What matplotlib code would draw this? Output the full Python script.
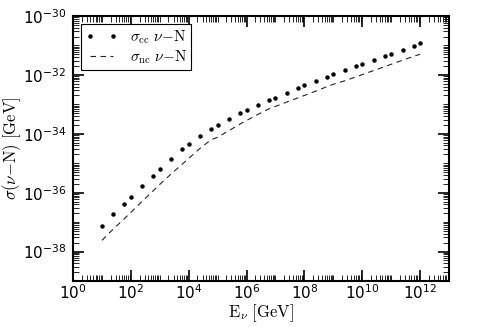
import matplotlib
matplotlib.use("Agg")
import matplotlib.pyplot as plt
from matplotlib.ticker import LogLocator, NullFormatter, FixedLocator, LogFormatterSciNotation

# Neutrino energies [GeV]
energy = [1e1, 2.5e1, 6e1, 1e2, 2.5e2, 6e2, 1e3, 2.5e3, 6e3, 1e4, 2.5e4, 6e4,
          1e5, 2.5e5, 6e5, 1e6, 2.5e6, 6e6, 1e7, 2.5e7, 6e7, 1e8, 2.5e8, 6e8,
          1e9, 2.5e9, 6e9, 1e10, 2.5e10, 6e10, 1e11, 2.5e11, 6e11, 1e12]

# charged-current cross section
sigma_cc = [7.59e-38, 1.91e-37, 4.27e-37, 6.92e-37, 1.66e-36, 3.80e-36, 6.17e-36,
            1.41e-35, 3.02e-35, 4.57e-35, 8.71e-35, 1.48e-34, 1.95e-34, 3.16e-34,
            4.90e-34, 6.17e-34, 9.33e-34, 1.35e-33, 1.70e-33, 2.45e-33, 3.47e-33,
            4.37e-33, 6.17e-33, 8.51e-33, 1.05e-32, 1.41e-32, 1.95e-32, 2.34e-32,
            3.16e-32, 4.37e-32, 5.25e-32, 7.08e-32, 9.77e-32, 1.17e-31]

# neutral-current cross section
sigma_nc = [2.40e-38, 5.89e-38, 1.32e-37, 2.14e-37, 5.13e-37, 1.17e-36, 1.91e-36,
            4.37e-36, 9.33e-36, 1.45e-35, 3.24e-35, 6.31e-35, 7.59e-35, 1.29e-34,
            2.14e-34, 2.82e-34, 4.57e-34, 7.08e-34, 8.51e-34, 1.20e-33, 1.66e-33,
            2.00e-33, 2.82e-33, 3.98e-33, 4.79e-33, 6.31e-33, 8.51e-33, 1.02e-32,
            1.41e-32, 1.91e-32, 2.29e-32, 3.16e-32, 4.27e-32, 5.01e-32]

x_major_ticks = [1e0, 1e2, 1e4, 1e6, 1e8, 1e10, 1e12]
y_major_ticks = [1e-38, 1e-36, 1e-34, 1e-32, 1e-30]

label_cc = r"$\sigma_{\rm cc}\ \nu{-}{\rm N}$"
label_nc = r"$\sigma_{\rm nc}\ \nu{-}{\rm N}$"

fig = plt.figure(figsize=(4.91, 3.27), dpi=100)
ax = fig.add_axes([0.1487, 0.1407, 0.7658, 0.8104])

ax.plot(energy, sigma_cc, linestyle="none", marker="o", markersize=2.2,
        color="black", label=label_cc)
ax.plot(energy, sigma_nc, linestyle=(0, (5, 4)), linewidth=0.8,
        color="#222222", label=label_nc)

ax.set_xscale("log")
ax.set_yscale("log")
ax.set_xlim(1, 1e13)
ax.set_ylim(1e-39, 1e-30)

ax.xaxis.set_major_locator(FixedLocator(x_major_ticks))
ax.yaxis.set_major_locator(FixedLocator(y_major_ticks))
ax.xaxis.set_major_formatter(LogFormatterSciNotation())
ax.yaxis.set_major_formatter(LogFormatterSciNotation())
ax.xaxis.set_minor_locator(LogLocator(base=10, subs=[1, 2, 3, 4, 5, 6, 7, 8, 9], numticks=100))
ax.yaxis.set_minor_locator(LogLocator(base=10, subs=[1, 2, 3, 4, 5, 6, 7, 8, 9], numticks=100))
ax.xaxis.set_minor_formatter(NullFormatter())
ax.yaxis.set_minor_formatter(NullFormatter())

ax.tick_params(which="both", direction="in", top=True, right=True, labelsize=11)
ax.tick_params(which="major", length=8, width=1.2)
ax.tick_params(which="minor", length=4, width=0.6)
ax.tick_params(axis="x", which="major", pad=2)
ax.tick_params(axis="y", which="major", pad=5)
for sp in ax.spines.values():
    sp.set_linewidth(1.5)

ax.set_xlabel(r"${\rm E}_{\nu}\ [{\rm GeV}]$", fontsize=12, math_fontfamily="cm", labelpad=0)
ax.set_ylabel(r"$\sigma(\nu{-}{\rm N})\ [{\rm GeV}]$", fontsize=12, math_fontfamily="cm", labelpad=0)

leg = ax.legend(loc="upper left", numpoints=2, fontsize=11, fancybox=False,
                handlelength=2.1, borderaxespad=0.5, framealpha=1,
                edgecolor="black", borderpad=0.3, labelspacing=0.15,
                handletextpad=0.8)
leg.get_frame().set_linewidth(0.8)
for t in leg.get_texts():
    t.set_math_fontfamily("cm")

fig.savefig("out.png", dpi=100)
